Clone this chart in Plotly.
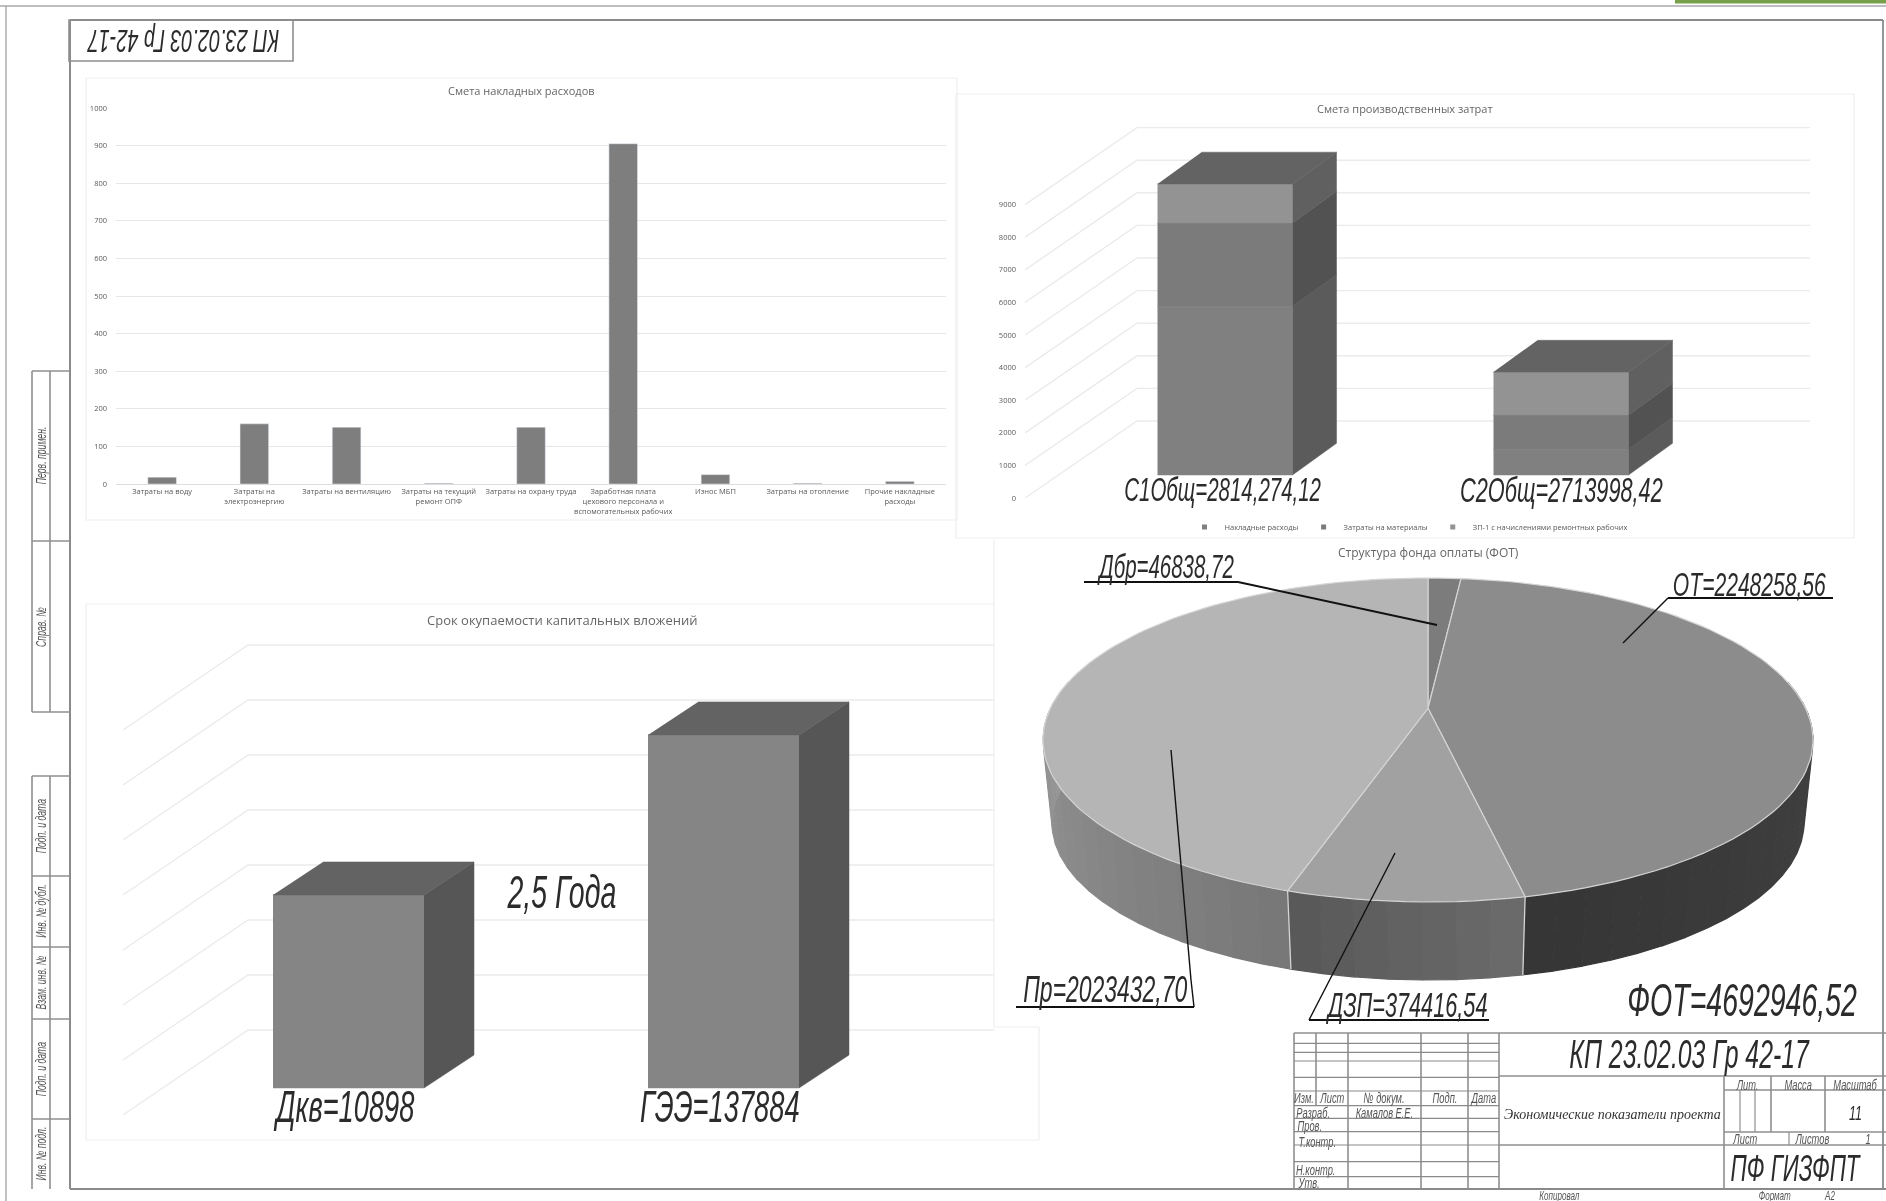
import math
import plotly.graph_objects as go

W, H = 1886, 1201

# ---------- data ----------
overhead_labels = ["Затраты на воду", "Затраты на<br>электроэнергию", "Затраты на вентиляцию",
                   "Затраты на текущий<br>ремонт ОПФ", "Затраты на охрану труда",
                   "Заработная плата<br>цехового персонала и<br>вспомогательных рабочих",
                   "Износ МБП", "Затраты на отопление", "Прочие накладные<br>расходы"]
overhead_values = [18, 160, 151, 2, 151, 905, 25, 2, 7]
overhead_ticks = [0, 100, 200, 300, 400, 500, 600, 700, 800, 900, 1000]

cost_ticks = [0, 1000, 2000, 3000, 4000, 5000, 6000, 7000, 8000, 9000]
cost_labels = ["С1Общ=2814,274,12", "С2Общ=2713998,42"]
cost_series = ["Накладные расходы", "Затраты на материалы", "ЗП-1 с начислениями ремонтных рабочих"]
cost_bottom = [5170, 790]
cost_middle = [2560, 1050]
cost_top = [1200, 1320]

payback_labels = ["Дкв=10898", "ГЭЭ=137884"]
payback_values = [70200, 128400]
payback_grid = [0, 20000, 40000, 60000, 80000, 100000, 120000, 140000]

pie_labels = ["Дбр=46838,72", "ОТ=2248258,56", "ДЗП=374416,54", "Пр=2023432,70"]
pie_degrees = [6.0, 162.0, 29.6, 162.4]

# ---------- styles ----------
HAND = "Liberation Sans"
UI = "Open Sans"
INK = "#2b2b2b"
LINE = "#8f8f8f"
GRID = "#ebebeb"
FRONT = "#858585"
TOP = "#636363"
SIDE = "#565656"
TICK = "#5a5a5a"


def dom_x(a, b):
    return [a / W, b / W]


def dom_y(top, bottom):
    return [1 - bottom / H, 1 - top / H]


fig = go.Figure()


def poly(xs, ys, color, xa, ya, name=None, legend=False, line=None, lw=0.5):
    fig.add_trace(go.Scatter(x=xs, y=ys, mode="lines", fill="toself", fillcolor=color,
                             line=dict(color=line or color, width=lw), xaxis=xa, yaxis=ya,
                             hoverinfo="skip", name=name, showlegend=legend))


def wall_lines(grid, x0, x1, x2, dv, xa, ya, color=GRID):
    for v in grid:
        fig.add_trace(go.Scatter(x=[x0, x1, x2], y=[v, v + dv, v + dv], mode="lines",
                                 line=dict(color=color, width=1.4), xaxis=xa, yaxis=ya,
                                 hoverinfo="skip", showlegend=False))


def bar3d(xc, hw, base, segments, colors, side_colors, dx, dv, xa, ya, names=None):
    level = base
    for i, seg in enumerate(segments):
        poly([xc - hw, xc + hw, xc + hw, xc - hw], [level, level, level + seg, level + seg],
             colors[i], xa, ya, name=names[i] if names else None, legend=bool(names))
        poly([xc + hw, xc + hw + dx, xc + hw + dx, xc + hw],
             [level, level + dv, level + seg + dv, level + seg], side_colors[i], xa, ya)
        level += seg
    poly([xc - hw, xc + hw, xc + hw + dx, xc - hw + dx], [level, level, level + dv, level + dv], TOP, xa, ya)


# ---------- chart 1: overhead estimate ----------
fig.add_trace(go.Bar(x=list(range(len(overhead_values))), y=overhead_values, marker_color="#7e7e7e",
                     width=0.31, xaxis="x", yaxis="y", hoverinfo="skip", showlegend=False))

# ---------- chart 2: production costs ----------
PX_PER_UNIT2 = 0.0326
base2 = 23 / PX_PER_UNIT2
dv2 = 31.7 / PX_PER_UNIT2
grid_dv2 = 77 / PX_PER_UNIT2
STEP2 = 336.0
wall_lines(cost_ticks, (1025 - 1225) / STEP2, (1137 - 1225) / STEP2, (1810 - 1225) / STEP2, grid_dv2, "x2", "y2")
for i in range(2):
    bar3d(i, 67.5 / STEP2, base2, [cost_bottom[i], cost_middle[i], cost_top[i]],
          ["#808080", "#7b7b7b", "#939393"], ["#5b5b5b", "#525252", "#606060"],
          44 / STEP2, dv2, "x2", "y2", names=None)
for name, color in zip(cost_series, ["#808080", "#7b7b7b", "#939393"]):
    fig.add_trace(go.Scatter(x=[None], y=[None], mode="markers", name=name, xaxis="x2", yaxis="y2",
                             marker=dict(symbol="square", size=5, color=color), hoverinfo="skip"))

# ---------- chart 3: payback ----------
PX_PER_UNIT3 = 55 / 20000
STEP3 = 375.0
base3 = 27 / PX_PER_UNIT3
dv3 = 33 / PX_PER_UNIT3
wall_lines(payback_grid, (123 - 348.5) / STEP3, (248 - 348.5) / STEP3, (994 - 348.5) / STEP3,
           85 / PX_PER_UNIT3, "x3", "y3")
for i, v in enumerate(payback_values):
    bar3d(i, 75.5 / STEP3, base3, [v], [FRONT], [SIDE], 50 / STEP3, dv3, "x3", "y3")

# ---------- chart 4: pie, drawn on the sheet axis ----------
CX, CY, RA, RB = 1428, 740, 385, 162
CX2, CY2, RA2, RB2 = 1428, 823, 376, 157
K = 0.196


def rim(t, cx, cy, a, b):
    u, v = math.sin(t), math.cos(t)
    w = 1 + K * v
    return cx + a * math.sqrt(1 - K * K) * u / w, cy - b * (K + v) / w


starts = [0.0]
for d in pie_degrees:
    starts.append(starts[-1] + d)

wall_shades = [(0x3c, 0x3c), (0x36, 0x44), (0x6c, 0x58), (0x78, 0x9c)]
top_colors = ["#7c7c7c", "#8c8c8c", "#a1a1a1", "#b5b5b5"]
slice_edge = "#d4d4d4"

# side walls, only the near half of the cylinder shows
for i in range(4):
    a0, a1 = max(starts[i], 80.0), min(starts[i + 1], 280.0)
    if a1 <= a0:
        continue
    n = max(2, int((a1 - a0) / 4))
    for j in range(n):
        t0 = math.radians(a0 + (a1 - a0) * j / n)
        t1 = math.radians(a0 + (a1 - a0) * (j + 1) / n)
        frac = (j + 0.5) / n
        s = wall_shades[i]
        g = int(s[0] + (s[1] - s[0]) * (1 - frac if i == 1 else frac))
        c = f"#{g:02x}{g:02x}{g:02x}"
        p0, p1 = rim(t0, CX, CY, RA, RB), rim(t1, CX, CY, RA, RB)
        q0, q1 = rim(t0, CX2, CY2, RA2, RB2), rim(t1, CX2, CY2, RA2, RB2)
        poly([p0[0], p1[0], q1[0], q0[0]], [p0[1], p1[1], q1[1], q0[1]], c, "x4", "y4", lw=1.2)

for angle in (starts[2], starts[3]):
    t = math.radians(angle)
    p, q = rim(t, CX, CY, RA, RB), rim(t, CX2, CY2, RA2, RB2)
    fig.add_trace(go.Scatter(x=[p[0], q[0]], y=[p[1], q[1]], mode="lines", xaxis="x4", yaxis="y4",
                             line=dict(color=slice_edge, width=1.3), hoverinfo="skip", showlegend=False))

for i in range(4):
    steps = max(3, int(pie_degrees[i] / 2))
    xs, ys = [CX], [CY - RB * K]
    for j in range(steps + 1):
        t = math.radians(starts[i] + pie_degrees[i] * j / steps)
        px, py = rim(t, CX, CY, RA, RB)
        xs.append(px)
        ys.append(py)
    xs.append(xs[0])
    ys.append(ys[0])
    poly(xs, ys, top_colors[i], "x4", "y4", line=slice_edge, lw=1.2)

# ---------- sheet drawing: frame, stamp, title block ----------
shapes = []


def seg(x0, y0, x1, y1, color=LINE, width=1.6):
    shapes.append(dict(type="line", xref="x4", yref="y4", x0=x0, y0=y0, x1=x1, y1=y1,
                       line=dict(color=color, width=width), layer="above"))


def rect(x0, y0, x1, y1, color=LINE, width=1.6, fill=None, layer="above"):
    shapes.append(dict(type="rect", xref="x4", yref="y4", x0=x0, y0=y0, x1=x1, y1=y1,
                       line=dict(color=color, width=width), fillcolor=fill, layer=layer))


# chart cards
rect(86, 78, 957, 520, color="#efefef", width=1.2, layer="below")
rect(956, 94, 1854, 538, color="#efefef", width=1.2, layer="below")
seg(86, 604, 994, 604, "#efefef", 1.2)
seg(86, 604, 86, 1140, "#efefef", 1.2)
seg(86, 1140, 1039, 1140, "#efefef", 1.2)
seg(1039, 1027, 1039, 1140, "#efefef", 1.2)
seg(994, 540, 994, 1027, "#efefef", 1.2)
seg(994, 1027, 1039, 1027, "#efefef", 1.2)

# outer sheet lines
seg(0, 6, W, 6, "#a8a8a8", 1.4)
seg(6, 6, 6, 1201, "#a8a8a8", 1.4)
shapes.append(dict(type="rect", xref="x4", yref="y4", x0=1675, y0=0, x1=W, y1=3.5,
                   line=dict(width=0), fillcolor="#78a04b", layer="above"))
seg(70, 20, 1883, 20, "#8a8a8a", 1.8)
seg(1883, 20, 1883, 1190, "#8a8a8a", 1.8)
seg(70, 20, 70, 1189, "#8a8a8a", 2)
seg(70, 1189, W, 1189, "#8a8a8a", 2)
rect(69, 20, 293, 61)

# left side strip
seg(32, 371, 70, 371)
seg(32, 371, 32, 712)
seg(32, 541, 70, 541)
seg(32, 712, 70, 712)
seg(50, 371, 50, 712)
seg(32, 776, 70, 776)
seg(32, 776, 32, 1189)
seg(50, 776, 50, 1189)
for y in (876, 947, 1019, 1119):
    seg(32, y, 70, y)

# title block
for x in (1294, 1348, 1421, 1468, 1499):
    seg(x, 1033, x, 1189)
seg(1316, 1033, 1316, 1106)
for zy in (100, 127, 153, 202, 243, 287, 325, 365, 405, 455, 500):
    seg(1294, 1010 + zy / 3, 1499, 1010 + zy / 3, "#8a8a8a", 1.2)
seg(1294, 1033, W, 1033)
seg(1499, 1076, W, 1076)
seg(1499, 1145, W, 1145)
seg(1724, 1076, 1724, 1189)
seg(1724, 1090, W, 1090)
seg(1724, 1132, W, 1132)
seg(1771, 1076, 1771, 1132)
seg(1825, 1076, 1825, 1132)
seg(1740, 1090, 1740, 1132, width=1.2)
seg(1755, 1090, 1755, 1132, width=1.2)
seg(1789, 1132, 1789, 1145, width=1.2)

# leader lines of the pie
LEAD = "#111111"
seg(1084, 582, 1238, 582, LEAD, 1.8)
seg(1238, 582, 1437, 625, LEAD, 1.8)
seg(1668, 598, 1833, 598, LEAD, 1.8)
seg(1668, 598, 1623, 643, LEAD, 1.4)
seg(1016, 1007, 1194, 1007, LEAD, 1.8)
seg(1194, 1007, 1191, 980, LEAD, 1.4)
seg(1191, 980, 1171, 750, LEAD, 1.4)
seg(1309, 1020, 1489, 1020, LEAD, 1.8)
seg(1309, 1020, 1395, 853, LEAD, 1.4)

# ---------- text ----------
ann = []


def txt(x, y, s, size, font=HAND, color=INK, italic=True, angle=0, xanchor="center"):
    ann.append(dict(x=x, y=y, xref="x4", yref="y4", text=s, showarrow=False, textangle=angle,
                    xanchor=xanchor, yanchor="middle",
                    font=dict(family=font, size=size, color=color, style="italic" if italic else "normal")))


txt(521, 90, "Смета накладных расходов", 11, UI, "#666666", False)
txt(1405, 108, "Смета производственных затрат", 11, UI, "#666666", False)
txt(562, 620, "Срок окупаемости капитальных вложений", 13, UI, "#666666", False)
txt(1428, 552, "Структура фонда оплаты (ФОТ)", 12, UI, "#666666", False)

txt(183, 41, "КП 23.02.03 Гр 42-17", 32, angle=180)
txt(1222, 489, cost_labels[0], 33)
txt(1561, 489, cost_labels[1], 35)
txt(343, 1106, payback_labels[0], 44)
txt(720, 1106, payback_labels[1], 44)
txt(561, 892, "2,5 Года", 46)
txt(1164, 566, pie_labels[0], 33)
txt(1749, 584, pie_labels[1], 34)
txt(1405, 1004, pie_labels[2], 35)
txt(1105, 989, pie_labels[3], 37)
txt(1742, 1000, "ФОТ=4692946,52", 46)

txt(1690, 1054, "КП 23.02.03 Гр 42-17", 40)
txt(1612, 1114, "Экономические показатели проекта", 14, "Liberation Serif", "#333333")
txt(1796, 1168, "ПФ ГИЗФПТ", 36)
txt(1855, 1113, "11", 20)

SMALL = "#555555"
for x, y, s in [(1304, 1097, "Изм."), (1332, 1097, "Лист"), (1384, 1097, "№ докум."), (1445, 1097, "Подп."),
                (1483, 1097, "Дата"), (1313, 1112, "Разраб."), (1384, 1112, "Камалов Е.Е."),
                (1310, 1125, "Пров."), (1317, 1141, "Т.контр."), (1316, 1169, "Н.контр."), (1308, 1182, "Утв."),
                (1747, 1084, "Лит."), (1798, 1084, "Масса"), (1855, 1084, "Масштаб"),
                (1745, 1138, "Лист"), (1812, 1138, "Листов"), (1868, 1138, "1")]:
    txt(x, y, s, 15, color=SMALL)
for x, s in [(1559, "Копировал"), (1775, "Формат"), (1830, "А2")]:
    txt(x, 1195, s, 13, color=SMALL)

for y, s in [(456, "Перв. примен."), (627, "Справ. №"), (826, "Подп. и дата"), (911, "Инв. № дубл."),
             (983, "Взам. инв. №"), (1069, "Подп. и дата"), (1154, "Инв. № подл.")]:
    txt(41, y, s, 14, color=SMALL, angle=-90)

# ---------- layout ----------
hidden = dict(visible=False, fixedrange=True)
fig.update_layout(
    width=W, height=H, margin=dict(l=0, r=0, t=0, b=0, autoexpand=False),
    paper_bgcolor="white", plot_bgcolor="rgba(0,0,0,0)",
    xaxis=dict(domain=dom_x(116, 946), range=[-0.5, 8.5], tickmode="array",
               tickvals=list(range(len(overhead_labels))), ticktext=overhead_labels,
               tickfont=dict(family=UI, size=7.5, color=TICK), tickangle=0, showgrid=False,
               showline=True, linecolor="#dddddd", ticks="", zeroline=False, anchor="y", fixedrange=True),
    yaxis=dict(domain=dom_y(108, 484), range=[0, 1000], tickmode="array", tickvals=overhead_ticks,
               tickfont=dict(family=UI, size=7.5, color=TICK), gridcolor="#e6e6e6", gridwidth=1.2,
               zeroline=False, showline=False, ticks="", anchor="x", fixedrange=True, ticklabelstandoff=8),
    xaxis2=dict(hidden, domain=dom_x(1025, 1810), range=[(1025 - 1225) / STEP2, (1810 - 1225) / STEP2], anchor="y2"),
    yaxis2=dict(domain=dom_y(120, 498), range=[0, 378 / PX_PER_UNIT2], tickmode="array", tickvals=cost_ticks,
                tickfont=dict(family=UI, size=7.5, color=TICK), showgrid=False, zeroline=False,
                showline=False, ticks="", anchor="x2", fixedrange=True, ticklabelstandoff=8),
    xaxis3=dict(hidden, domain=dom_x(123, 1001), range=[(123 - 348.5) / STEP3, (1001 - 348.5) / STEP3], anchor="y3"),
    yaxis3=dict(hidden, domain=dom_y(630, 1125), range=[-10 / PX_PER_UNIT3, 485 / PX_PER_UNIT3], anchor="x3"),
    xaxis4=dict(hidden, domain=[0, 1], range=[0, W], anchor="y4"),
    yaxis4=dict(hidden, domain=[0, 1], range=[H, 0], anchor="x4"),
    shapes=shapes, annotations=ann, showlegend=True,
    legend=dict(orientation="h", x=1409 / W, y=1 - 527 / H, xanchor="center", yanchor="middle",
                font=dict(family=UI, size=7.5, color=TICK), bgcolor="rgba(0,0,0,0)", itemwidth=30),
)

POST = """
document.body.style.margin='0';
var gd=document.querySelector('.plotly-graph-div');
gd.querySelectorAll('.annotation-text').forEach(function(t){
  var f=t.style.fontFamily||'';
  if(f.indexOf('Liberation Sans')>=0){
    var n=t.getComputedTextLength();
    t.setAttribute('textLength',n*0.62);
    t.setAttribute('lengthAdjust','spacingAndGlyphs');
    var r=t.parentNode.querySelector('rect.bg');
    if(r){
      var w=parseFloat(r.getAttribute('width')), x=parseFloat(r.getAttribute('x')||0);
      r.setAttribute('x',x+w*0.19);
      r.setAttribute('width',w*0.62);
    }
  }
});
gd.style.filter='blur(0.5px)';
"""
fig.write_html("out.html", config=dict(displayModeBar=False), post_script=POST)
